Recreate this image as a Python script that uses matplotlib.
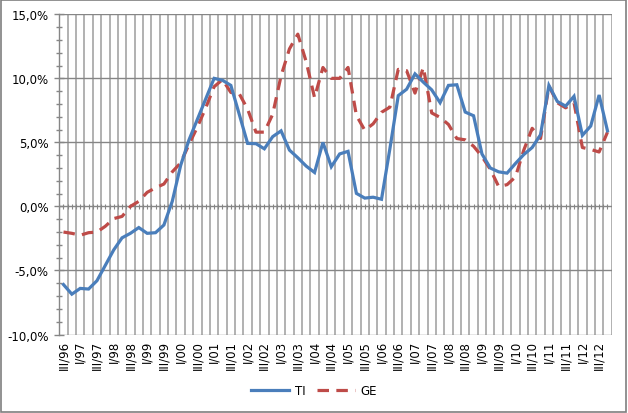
import matplotlib
matplotlib.use('Agg')
import matplotlib.pyplot as plt
from matplotlib.lines import Line2D
from matplotlib.patches import Rectangle
from matplotlib.ticker import MultipleLocator, FixedLocator, FuncFormatter
import numpy as np

quarters = [
    "III/96", "IV/96",
    "I/97", "II/97", "III/97", "IV/97",
    "I/98", "II/98", "III/98", "IV/98",
    "I/99", "II/99", "III/99", "IV/99",
    "I/00", "II/00", "III/00", "IV/00",
    "I/01", "II/01", "III/01", "IV/01",
    "I/02", "II/02", "III/02", "IV/02",
    "I/03", "II/03", "III/03", "IV/03",
    "I/04", "II/04", "III/04", "IV/04",
    "I/05", "II/05", "III/05", "IV/05",
    "I/06", "II/06", "III/06", "IV/06",
    "I/07", "II/07", "III/07", "IV/07",
    "I/08", "II/08", "III/08", "IV/08",
    "I/09", "II/09", "III/09", "IV/09",
    "I/10", "II/10", "III/10", "IV/10",
    "I/11", "II/11", "III/11", "IV/11",
    "I/12", "II/12", "III/12", "IV/12",
]

TI = [-6.1, -6.85, -6.4, -6.45, -5.8, -4.6, -3.4, -2.45, -2.1, -1.65,
      -2.1, -2.05, -1.45, 0.4, 3.2, 5.2, 6.8, 8.4, 10.0, 9.85,
      9.45, 7.2, 4.92, 4.9, 4.5, 5.45, 5.9, 4.4, 3.8, 3.15,
      2.65, 5.0, 3.1, 4.1, 4.3, 1.02, 0.65, 0.72, 0.56, 4.5,
      8.65, 9.15, 10.35, 9.7, 9.1, 8.1, 9.45, 9.5, 7.37, 7.08,
      4.1, 3.0, 2.7, 2.6, 3.35, 4.05, 4.6, 5.6, 9.45, 8.2,
      7.83, 8.6, 5.55, 6.28, 8.7, 5.9]

GE = [-2.0, -2.1, -2.25, -2.05, -2.0, -1.55, -0.95, -0.78, 0.0, 0.4,
      1.1, 1.45, 1.75, 2.7, 3.4, 4.85, 6.2, 7.7, 9.35, 9.9,
      8.9, 8.8, 7.6, 5.8, 5.8, 7.2, 10.2, 12.3, 13.45, 11.3,
      8.5, 10.85, 10.0, 10.0, 10.85, 7.1, 5.95, 6.45, 7.35, 7.75,
      10.7, 10.6, 8.85, 10.85, 7.3, 6.95, 6.4, 5.3, 5.2, 4.7,
      3.9, 2.9, 1.55, 1.7, 2.3, 4.4, 6.1, 5.3, 9.4, 8.1,
      7.7, 8.1, 4.6, 4.45, 4.25, 5.8]

series_names = ["TI", "GE"]
colors = ["#4A7EBB", "#BE4B48"]

fig = plt.figure(figsize=(6.28, 4.14), dpi=100)
ax = fig.add_axes([0.0944, 0.1896, 0.8796, 0.7734])

x = np.arange(len(quarters))
ax.plot(x, TI, color=colors[0], lw=2.3, solid_joinstyle='miter', zorder=4)
ax.plot(x, GE, color=colors[1], lw=2.3, linestyle=(0, (3.6, 2.3)),
        dash_capstyle='butt', zorder=3)

ax.set_xlim(-0.5, len(quarters) - 0.5)
ax.set_ylim(-10, 15)

# vertical gridlines at category boundaries
for b in np.arange(0.5, len(quarters) - 0.5 + 1e-9, 1.0):
    ax.axvline(b, color="#ABABAB", lw=1.3, zorder=1)
# horizontal major gridlines
for v in [-10, -5, 5, 10, 15]:
    ax.axhline(v, color="#868686", lw=1.0, zorder=2)
ax.axhline(0, color="#868686", lw=1.0, zorder=2)

for s in ['top', 'right', 'bottom']:
    ax.spines[s].set_visible(False)
ax.spines['left'].set_color("#868686")
ax.spines['left'].set_linewidth(1.0)

ax.yaxis.set_major_locator(MultipleLocator(5))
ax.yaxis.set_minor_locator(MultipleLocator(1))
ax.yaxis.set_major_formatter(FuncFormatter(lambda v, p: ("%.1f%%" % v).replace(".", ",")))
ax.tick_params(axis='y', which='major', direction='inout', length=7, width=1,
               color="#868686", labelsize=8.5, pad=4, labelcolor="#000000")
ax.tick_params(axis='y', which='minor', direction='inout', length=4, width=1,
               color="#868686")

# x tick labels every other quarter
ax.set_xticks(x[::2])
ax.set_xticklabels([quarters[i] for i in x[::2]], rotation=90, fontsize=8.5)
ax.tick_params(axis='x', which='major', length=0, pad=4)

# small tick marks along the zero axis
for t in np.arange(-0.5, len(quarters) - 0.5 + 1e-9, 0.5):
    ax.plot([t, t], [-0.18, 0.18], color="#868686", lw=0.8, zorder=2,
            solid_capstyle='butt')

handles = [Line2D([0], [0], color=colors[0], lw=2.3),
           Line2D([0], [0], color=colors[1], lw=2.3, linestyle=(0, (3.6, 2.3)),
                  dash_capstyle='butt')]
fig.legend(handles, series_names, loc='center', bbox_to_anchor=(0.5, 0.055),
           ncol=2, frameon=False, fontsize=8.5, handlelength=3.2,
           columnspacing=1.0, handletextpad=0.5)

fig.patches.append(Rectangle((0.002, 0.003), 0.995, 0.994, transform=fig.transFigure,
                             fill=False, edgecolor="#7F7F7F", lw=1.2))

fig.savefig("out.png", dpi=100)
